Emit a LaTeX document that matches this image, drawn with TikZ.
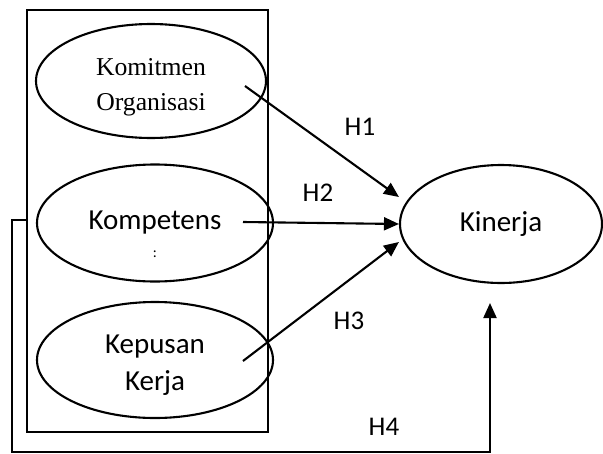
\documentclass[tikz,border=0pt]{standalone}
\usepackage{fontspec}
\setmainfont{Carlito}
\newfontfamily\timesfont{Liberation Serif}
\usetikzlibrary{shapes.geometric, arrows.meta}
\tikzstyle{construct}=[ellipse, draw, line width=2.1pt, align=center, inner sep=0pt, font=\fontsize{29}{37}\selectfont]
\tikzstyle{hypo}=[line width=2.1pt, -{Triangle[length=15pt, width=13pt]}]
\tikzstyle{hlabel}=[inner sep=0pt, font=\fontsize{27}{30}\selectfont]

\begin{document}
\begin{tikzpicture}[x=1pt, y=-1pt]
\useasboundingbox (0,0) rectangle (603,453);
% Box
    \draw[line width=2.4pt] (27,10) rectangle (268,432);
    \coordinate (boxwest) at (27,220);
% Constructs
    \node[construct, minimum width=230, minimum height=114, font=\timesfont\fontsize{25.7}{35}\selectfont] (komitmen) at (151,81) {\raisebox{0pt}[29pt]{Komitmen}\\Organisasi};
    \node[construct, minimum width=236, minimum height=117] (kompetensi) at (155,223) {Kompetens};
    \node[inner sep=0pt, font=\fontsize{15}{15}\selectfont] (dots) at (155,254) {:};
    \node[construct, minimum width=236, minimum height=116] (kepuasan) at (155,360) {\raisebox{0pt}[28pt]{Kepusan}\\Kerja};
    \node[construct, minimum width=202, minimum height=118] (kinerja) at (501,224) {Kinerja};
% Hypotheses
    \coordinate (h1start) at (245,86);
    \coordinate (h2start) at (243,222);
    \coordinate (h3start) at (243,361);
    \coordinate (h4end) at (490,303);
    \draw[hypo] (h1start) -- ([yshift=27pt]kinerja.west);
    \draw[hypo] (h2start) -- (kinerja.west);
    \draw[hypo] (h3start) -- ([yshift=-18pt]kinerja.west);
    \draw[hypo] (boxwest) -- (12,220) -- (12,452) -- (490,452) -- (h4end);
% Labels
    \node[hlabel] (lh1) at (360,127) {H1};
    \node[hlabel] (lh2) at (318,193) {H2};
    \node[hlabel] (lh3) at (349,321) {H3};
    \node[hlabel] (lh4) at (384,427) {H4};
\end{tikzpicture}
\end{document}
